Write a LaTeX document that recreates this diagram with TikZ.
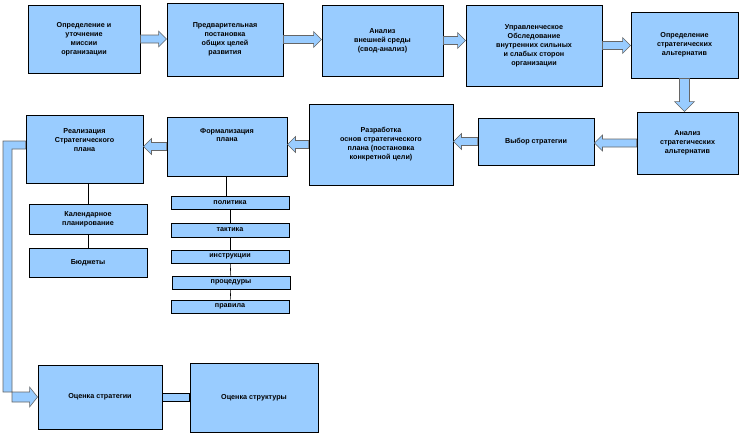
\documentclass[tikz,border=0pt]{standalone}
\usepackage{fontspec}
\setmainfont{Liberation Sans}
\usetikzlibrary{calc}
\definecolor{boxblue}{HTML}{99CCFF}
\tikzset{
  box/.style={draw=black, line width=0.9pt, fill=boxblue, align=center, inner sep=1pt,
    font=\bfseries\fontsize{7.2}{9}\selectfont},
  barrow/.style={draw=black!60, line width=0.6pt, fill=boxblue},
  link/.style={draw=black, line width=0.6pt},
}
\newcommand{\bx}[6]{\node[box, minimum width={#4-#2}, minimum height={#5-#3}] (#1) at ({(#2+#4)/2},{(#3+#5)/2}) {#6};}
\newcommand{\rarr}[2]{\path let \p1=(#1.east), \p2=(#2.west) in
  [barrow] (\x1,\y1+4) -- (\x2-8,\y1+4) -- (\x2-8,\y1+8) -- (\x2,\y1) -- (\x2-8,\y1-8) -- (\x2-8,\y1-4) -- (\x1,\y1-4) -- cycle;}
\newcommand{\larr}[2]{\path let \p1=(#1.west), \p2=(#2.east) in
  [barrow] (\x1,\y1+4) -- (\x2+8,\y1+4) -- (\x2+8,\y1+8) -- (\x2,\y1) -- (\x2+8,\y1-8) -- (\x2+8,\y1-4) -- (\x1,\y1-4) -- cycle;}
\begin{document}
\begin{tikzpicture}[x=1pt,y=-1pt]
\useasboundingbox (0,0) rectangle (741,437);
\bx{b1}{28}{5}{140}{73}{Определение и\\уточнение\\миссии\\организации}
\bx{b2}{167}{3}{283}{76}{Предварительная\\постановка\\общих целей\\развития}
\bx{b3}{322}{5}{443}{76}{Анализ\\внешней среды\\(свод-анализ)}
\bx{b4}{466}{5}{602}{86}{Управленческое\\Обследование\\внутренних сильных\\и слабых сторон\\организации}
\bx{b5}{631}{12}{738}{78}{Определение\\стратегических\\альтернатив}
\bx{b6}{637}{112}{738}{174}{Анализ\\стратегических\\альтернатив}
\bx{b7}{478}{118}{594}{165}{Выбор стратегии}
\bx{b8}{309}{104}{453}{185}{Разработка\\основ стратегического\\плана (постановка\\конкретной цели)}
\bx{b9}{167}{117}{287}{176}{Формализация\\плана\\[14pt]}
\bx{b10}{26}{115}{143}{183}{Реализация\\Стратегического\\плана\\[8pt]}
\bx{k1}{29}{204}{147}{234}{Календарное\\планирование}
\bx{k2}{29}{248}{147}{277}{Бюджеты}
\bx{p1}{171}{196}{289}{209}{политика}
\bx{p2}{171}{223}{289}{237}{тактика}
\bx{p3}{171}{250}{289}{263}{инструкции}
\bx{p4}{172}{276}{290}{289}{процедуры}
\bx{p5}{171}{300}{289}{313}{правила}
\bx{e1}{38}{365}{162}{429}{Оценка стратегии}
\bx{e2}{190}{363}{318}{432}{Оценка структуры}
\rarr{b1}{b2}
\rarr{b2}{b3}
\rarr{b3}{b4}
\rarr{b4}{b5}
\path let \p1=(b5.south), \p2=(b6.north) in
  [barrow] (\x1-5,\y1) -- (\x1-5,\y2+10) -- (\x1-10,\y2+10) -- (\x1,\y2) -- (\x1+10,\y2+10) -- (\x1+5,\y2+10) -- (\x1+5,\y1) -- cycle;
\larr{b6}{b7}
\larr{b7}{b8}
\larr{b8}{b9}
\larr{b9}{b10}
\path let \p1=(b10.west), \p2=(e1.west) in
  [barrow] (\x1,\y1+8) -- (3,\y1+8) -- (3,\y2+5) -- (\x2-8,\y2+5) -- (\x2-8,\y2+10) -- (\x2,\y2) -- (\x2-8,\y2-10) -- (\x2-8,\y2-5) -- (12,\y2-5) -- (12,\y1) -- (\x1,\y1) -- cycle;
\path let \p1=(e1.east), \p2=(e2.west) in
  [barrow, draw=black] (\x1,\y1+4) rectangle (\x2,\y1-4);
\draw[link] (b10.south -| k1.north) -- (k1.north);
\draw[link] (k1) -- (k2);
\draw[link] ([xshift=-4pt]p1.north) -- ([xshift=-4pt]p1.north |- b9.south);
\draw[link] (p1) -- (p2);
\draw[link] (p2) -- (p3);
\draw[link] (p3) -- (p4);
\draw[link] (p4) -- (p5);
\end{tikzpicture}
\end{document}
